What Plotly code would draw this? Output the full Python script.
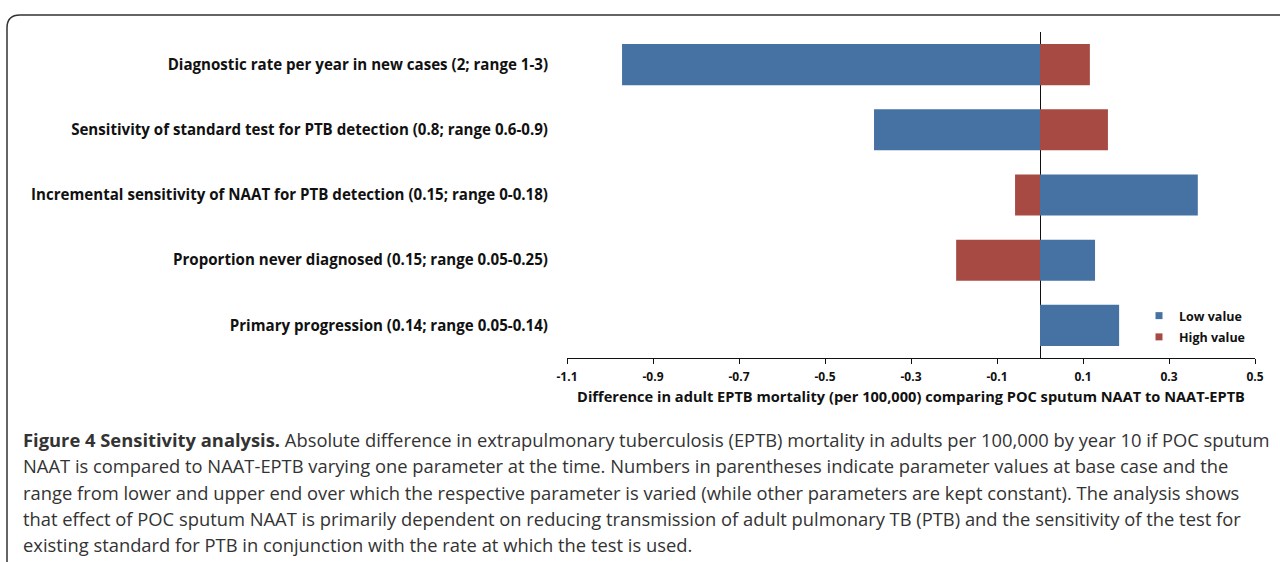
import plotly.graph_objects as go

# ---- data ----
parameters = [
    "Diagnostic rate per year in new cases (2; range 1-3)",
    "Sensitivity of standard test for PTB detection (0.8; range 0.6-0.9)",
    "Incremental sensitivity of NAAT for PTB detection (0.15; range 0-0.18)",
    "Proportion never diagnosed (0.15; range 0.05-0.25)",
    "Primary progression (0.14; range 0.05-0.14)",
]
low_value = [-0.972, -0.386, 0.367, 0.128, 0.184]
high_value = [0.116, 0.158, -0.058, -0.195, 0.0]
tick_vals = [-1.1, -0.9, -0.7, -0.5, -0.3, -0.1, 0.1, 0.3, 0.5]
tick_text = ["-1.1", "-0.9", "-0.7", "-0.5", "-0.3", "-0.1", "0.1", "0.3", "0.5"]
caption_lines = [
    "<b>Figure 4 Sensitivity analysis.</b> Absolute difference in extrapulmonary tuberculosis (EPTB) mortality in adults per 100,000 by year 10 if POC sputum",
    "NAAT is compared to NAAT-EPTB varying one parameter at the time. Numbers in parentheses indicate parameter values at base case and the",
    "range from lower and upper end over which the respective parameter is varied (while other parameters are kept constant). The analysis shows",
    "that effect of POC sputum NAAT is primarily dependent on reducing transmission of adult pulmonary TB (PTB) and the sensitivity of the test for",
    "existing standard for PTB in conjunction with the rate at which the test is used.",
]
x_title = "Difference in adult EPTB mortality (per 100,000) comparing POC sputum NAAT to NAAT-EPTB"

BLUE = "#4672A3"
RED = "#A84A44"
INK = "#111111"

W, H = 1280, 562
L, R, T, B = 567, 25, 32, 204
PW, PH = W - L - R, H - T - B


def px(x):
    return (x - L) / PW


def py(y):
    return (H - B - y) / PH


fig = go.Figure()
fig.add_trace(go.Bar(y=parameters, x=low_value, orientation="h", marker=dict(color=BLUE, line=dict(width=0)),
                     width=0.63, name="Low value", showlegend=False))
fig.add_trace(go.Bar(y=parameters, x=high_value, orientation="h", marker=dict(color=RED, line=dict(width=0)),
                     width=0.63, name="High value", showlegend=False))
# legend entries
fig.add_trace(go.Scatter(x=[None], y=[None], mode="markers", name="Low value", legendgroup="a",
                         marker=dict(symbol="square", size=7, color=BLUE)))
fig.add_trace(go.Scatter(x=[None], y=[None], mode="markers", name="High value", legendgroup="b",
                         marker=dict(symbol="square", size=7, color=RED)))

fig.update_layout(
    width=W, height=H,
    margin=dict(l=L, r=R, t=T, b=B, pad=0),
    paper_bgcolor="white", plot_bgcolor="white",
    barmode="overlay",
    font=dict(family="Open Sans", color=INK),
    showlegend=True,
    legend=dict(x=px(1154), y=py(301), xanchor="left", yanchor="top", bgcolor="rgba(0,0,0,0)",
                font=dict(family="Open Sans", size=12.5, color=INK, weight="bold"),
                tracegroupgap=2, itemwidth=30, indentation=-15),
    xaxis=dict(range=[-1.1, 0.5], tickvals=tick_vals, ticktext=tick_text, showgrid=False, zeroline=True,
               zerolinecolor=INK, zerolinewidth=1.2,
               showline=True, linecolor=INK, linewidth=1, ticks="outside", ticklen=5, tickcolor=INK,
               ticklabelstandoff=3,
               tickfont=dict(family="Open Sans", size=12, color=INK, weight="bold"),
               title=dict(text=x_title, standoff=7,
                          font=dict(family="Open Sans", size=14.6, color=INK, weight="bold"))),
    yaxis=dict(categoryorder="array", categoryarray=parameters[::-1], showgrid=False, zeroline=False,
               showline=False, ticks="", ticklabelstandoff=18,
               tickfont=dict(family="Open Sans", size=15.1, color=INK, weight="bold")),
)

for i, line in enumerate(caption_lines):
    fig.add_annotation(text=line, xref="paper", yref="paper", x=px(21), y=py(440 + 26 * i),
                       xanchor="left", yanchor="middle", showarrow=False,
                       font=dict(family="Open Sans", size=18.35, color="#333"))

path = "M {:.5f},{:.5f} L {:.5f},{:.5f} Q {:.5f},{:.5f} {:.5f},{:.5f} L {:.5f},{:.5f}".format(
    px(7), py(562), px(7), py(28), px(7), py(15), px(20), py(15), px(1280), py(15))
fig.add_shape(type="path", path=path, xref="paper", yref="paper", line=dict(color="#333", width=1.5))

fig.write_html("out.html", config={"displayModeBar": False},
               post_script="document.body.style.margin='0px';")
